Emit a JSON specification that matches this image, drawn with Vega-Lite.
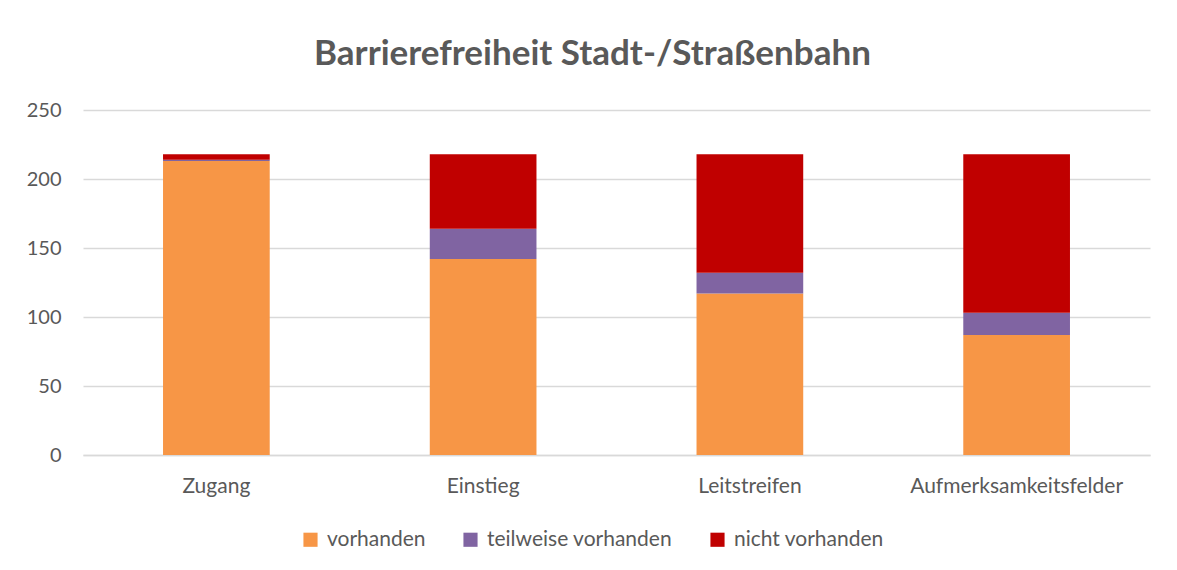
{
  "$schema": "https://vega.github.io/schema/vega-lite/v6.json",
  "width": 1067,
  "height": 345,
  "autosize": {"type": "none"},
  "padding": {"left": 83, "top": 110, "right": 27, "bottom": 115},
  "background": "white",
  "config": {
    "font": "Lato",
    "view": {"stroke": null}
  },
  "title": {
    "text": "Barrierefreiheit Stadt-/Straßenbahn",
    "font": "Lato",
    "fontSize": 35,
    "fontWeight": "bold",
    "color": "#595959",
    "anchor": "middle",
    "offset": 28,
    "dx": -24
  },
  "data": {
    "values": [
      {"kategorie": "Zugang", "status": "vorhanden", "ord": 1, "anzahl": 213},
      {"kategorie": "Zugang", "status": "teilweise vorhanden", "ord": 2, "anzahl": 1},
      {"kategorie": "Zugang", "status": "nicht vorhanden", "ord": 3, "anzahl": 4},
      {"kategorie": "Einstieg", "status": "vorhanden", "ord": 1, "anzahl": 142},
      {"kategorie": "Einstieg", "status": "teilweise vorhanden", "ord": 2, "anzahl": 22},
      {"kategorie": "Einstieg", "status": "nicht vorhanden", "ord": 3, "anzahl": 54},
      {"kategorie": "Leitstreifen", "status": "vorhanden", "ord": 1, "anzahl": 117},
      {"kategorie": "Leitstreifen", "status": "teilweise vorhanden", "ord": 2, "anzahl": 15},
      {"kategorie": "Leitstreifen", "status": "nicht vorhanden", "ord": 3, "anzahl": 86},
      {"kategorie": "Aufmerksamkeitsfelder", "status": "vorhanden", "ord": 1, "anzahl": 87},
      {"kategorie": "Aufmerksamkeitsfelder", "status": "teilweise vorhanden", "ord": 2, "anzahl": 16},
      {"kategorie": "Aufmerksamkeitsfelder", "status": "nicht vorhanden", "ord": 3, "anzahl": 115}
    ]
  },
  "mark": {"type": "bar"},
  "encoding": {
    "x": {
      "field": "kategorie",
      "type": "nominal",
      "sort": ["Zugang", "Einstieg", "Leitstreifen", "Aufmerksamkeitsfelder"],
      "scale": {"paddingInner": 0.6, "paddingOuter": 0.3},
      "axis": {
        "title": null,
        "labelAngle": 0,
        "labelFontSize": 21,
        "labelLimit": 400,
        "labelColor": "#595959",
        "labelPadding": 20,
        "ticks": false,
        "domain": true,
        "domainColor": "#d9d9d9",
        "domainWidth": 1.5
      }
    },
    "y": {
      "field": "anzahl",
      "type": "quantitative",
      "stack": "zero",
      "scale": {"domain": [0, 250], "nice": false},
      "axis": {
        "title": null,
        "values": [0, 50, 100, 150, 200, 250],
        "labelFontSize": 20,
        "labelColor": "#595959",
        "labelPadding": 22,
        "ticks": false,
        "domain": false,
        "gridColor": "#d9d9d9",
        "gridWidth": 1.5
      }
    },
    "color": {
      "field": "status",
      "type": "nominal",
      "sort": ["vorhanden", "teilweise vorhanden", "nicht vorhanden"],
      "scale": {
        "domain": ["vorhanden", "teilweise vorhanden", "nicht vorhanden"],
        "range": ["#F79646", "#8064A2", "#C00000"]
      },
      "legend": {
        "title": null,
        "orient": "none",
        "legendX": 217,
        "legendY": 419,
        "direction": "horizontal",
        "labelFontSize": 21,
        "labelLimit": 400,
        "labelColor": "#595959",
        "symbolType": "square",
        "symbolSize": 200,
        "symbolStrokeWidth": 0,
        "columnPadding": 34,
        "labelOffset": 6
      }
    },
    "order": {"field": "ord", "type": "quantitative"}
  }
}
